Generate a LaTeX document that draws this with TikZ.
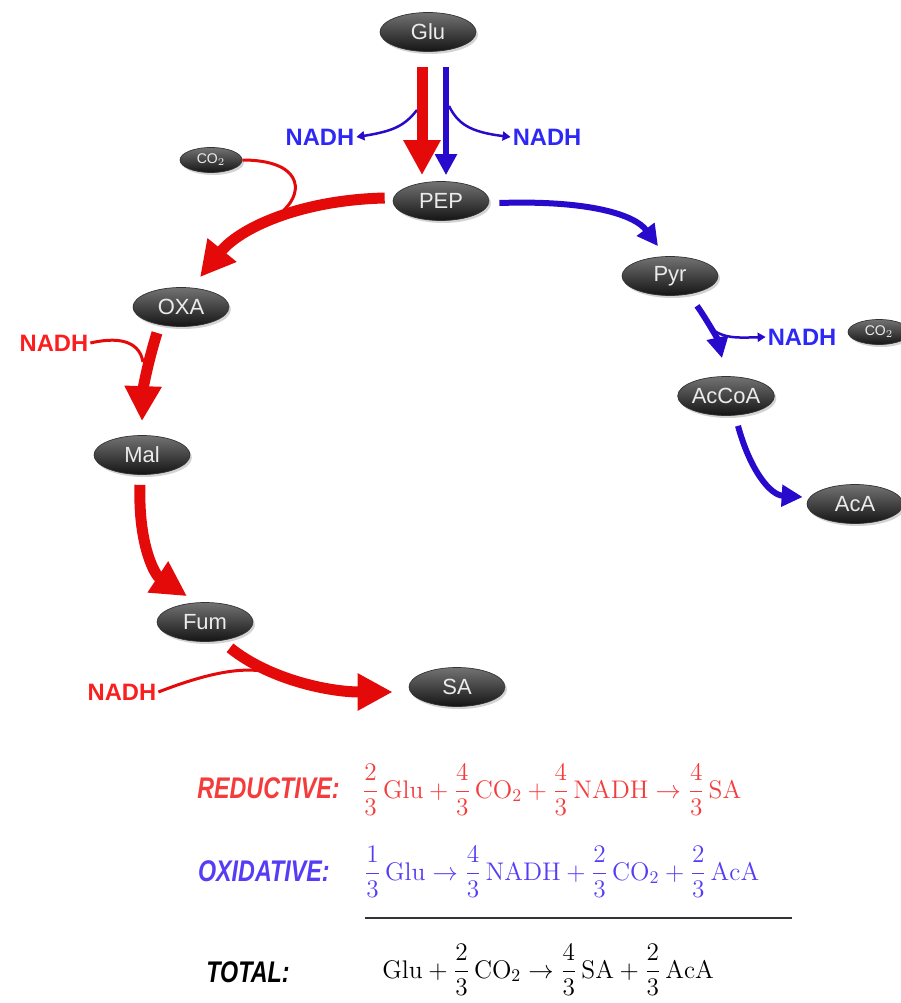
\documentclass[tikz,border=0pt]{standalone}
\usepackage{amsmath}
\usepackage{fontspec}
\usepackage{tikz}
\usetikzlibrary{arrows.meta,calc,shapes.geometric,shadows,positioning}
\newfontfamily\nodefont{Liberation Sans}
\newfontfamily\labfont[FakeStretch=0.78]{Liberation Sans}
\definecolor{pathred}{RGB}{228,10,10}
\definecolor{pathblue}{RGB}{40,10,205}
\definecolor{nadhred}{RGB}{250,30,30}
\definecolor{nadhblue}{RGB}{45,40,245}
\definecolor{eqred}{RGB}{245,60,60}
\definecolor{eqblue}{RGB}{85,60,245}
\tikzset{
  metab/.style={
    shape = ellipse,
    minimum width = 1.92cm,
    minimum height = 0.78cm,
    inner sep = 0pt,
    top color = black!55,
    bottom color = black!92,
    draw = black!80,
    drop shadow = {shadow xshift=0.04cm, shadow yshift=-0.05cm, opacity=0.35},
    text = black!8,
    font = \nodefont\fontsize{12.5}{14}\selectfont
  },
  gas/.style={
    metab,
    minimum width = 1.24cm,
    minimum height = 0.5cm,
    font = \nodefont\fontsize{8}{9}\selectfont
  },
}
\tikzset{
  nadh/.style={
    font = \nodefont\bfseries\fontsize{13.5}{15}\selectfont,
    inner sep = 1pt
  },
  redpath/.style={
    pathred,
    line width = 0.22cm,
    -{Triangle[width=0.7cm,length=0.7cm]}
  },
  bluepath/.style={
    pathblue,
    line width = 0.12cm,
    -{Triangle[width=0.42cm,length=0.42cm]}
  },
  redthin/.style={
    pathred,
    line width = 0.06cm
  },
  bluethin/.style={
    pathblue,
    line width = 0.05cm,
    -{Triangle[width=0.18cm,length=0.16cm]}
  },
  eqlab/.style={
    font = \labfont\bfseries\itshape\fontsize{17}{20}\selectfont,
    anchor = east,
    inner sep = 0pt
  },
  eqn/.style={
    font = \fontsize{14.5}{17}\selectfont,
    anchor = west,
    inner sep = 0pt
  }
}

\begin{document}
\begin{tikzpicture}[x=0.02cm,y=0.02cm]
        \useasboundingbox (0,0) rectangle (901,-1003);

        % metabolites
        \node[metab] (glu) at (428,-32) {Glu};
        \node[metab] (pep) at (441,-201) {PEP};
        \node[gas] (co2a) at (211,-160) {CO$_2$};
        \node[metab] (oxa) at (181,-307) {OXA};
        \node[metab] (mal) at (142,-455) {Mal};
        \node[metab] (fum) at (205,-622) {Fum};
        \node[metab] (sa) at (457,-687) {SA};
        \node[metab] (pyr) at (670,-276) {Pyr};
        \node[metab] (accoa) at (726,-396) {AcCoA};
        \node[metab] (aca) at (855,-504) {AcA};
        \node[gas] (co2b) at (879,-332) {CO$_2$};

        \node[nadh, text=nadhblue] (nadhl) at (320,-137) {NADH};
        \node[nadh, text=nadhblue] (nadhr) at (547,-137) {NADH};
        \node[nadh, text=nadhblue] (nadhox) at (802,-337) {NADH};
        \node[nadh, text=nadhred] (nadhm) at (54,-343) {NADH};
        \node[nadh, text=nadhred] (nadhs) at (122,-692) {NADH};

        % oxidative branch
        \coordinate (bl) at (417,-110);
        \coordinate (br) at (449,-106);
        \draw[bluethin] (bl) .. controls (405,-125) and (395,-131) .. (nadhl.east);
        \draw[bluethin] (br) .. controls (458,-124) and (470,-132) .. (nadhr.west);
        \draw[bluepath] ($(glu.south)+(18,-15)$) -- ($(pep.north)+(5,6)$);
        \draw[bluepath] ($(pep.east)+(10,-2)$) .. controls (590,-200) and (635,-215) .. ($(pyr.north)+(-12,10)$);
        \coordinate (bp) at (713,-330);
        \draw[bluethin] (bp) .. controls (725,-338) and (735,-338) .. (nadhox.west);
        \draw[bluepath] ($(pyr.south)+(27,-10)$) .. controls (707,-320) and (718,-340) .. ($(accoa.north)+(-4,18)$);
        \draw[bluepath] ($(accoa.south)+(12,-10)$) .. controls (750,-470) and (770,-495) .. ($(aca.west)+(-4,7)$);

        % reductive branch
        \draw[redpath] ($(glu.south)+(-6,-15)$) -- ($(pep.north)+(-19,6)$);
        \draw[redthin] (co2a.east) .. controls (300,-160) and (305,-190) .. (284,-210);
        \draw[redpath] ($(pep.west)+(-8,3)$) .. controls (300,-200) and (240,-228) .. ($(oxa.north)+(19,10)$);
        \draw[redthin] (nadhm.east) .. controls (125,-335) and (140,-345) .. (143,-362);
        \draw[redpath] ($(oxa.south)+(-24,-6)$) .. controls (147,-365) and (143,-390) .. ($(mal.north)+(0,14)$);
        \draw[redpath] ($(mal.south)+(-2,-10)$) .. controls (138,-545) and (155,-575) .. ($(fum.north)+(-18,6)$);
        \draw[redthin] (nadhs.east) .. controls (210,-672) and (240,-668) .. (262,-671);
        \draw[redpath] ($(fum.south)+(25,-6)$) .. controls (270,-680) and (330,-692) .. ($(sa.west)+(-16,-5)$);

        % equations
        \node[eqlab, text=eqred] (redlab) at (340,-788) {REDUCTIVE:};
        \node[eqn, text=eqred] (redeq) at (362,-790)
          {$\dfrac{2}{3}\,\mathrm{Glu}+\dfrac{4}{3}\,\mathrm{CO_2}+\dfrac{4}{3}\,\mathrm{NADH}\rightarrow\dfrac{4}{3}\,\mathrm{SA}$};
        \node[eqlab, text=eqblue] (oxlab) at (330,-871) {OXIDATIVE:};
        \node[eqn, text=eqblue] (oxeq) at (364,-872)
          {$\dfrac{1}{3}\,\mathrm{Glu}\rightarrow\dfrac{4}{3}\,\mathrm{NADH}+\dfrac{2}{3}\,\mathrm{CO_2}+\dfrac{2}{3}\,\mathrm{AcA}$};
        \draw[black!80, line width=0.035cm] (365,-918) -- (792,-918);
        \node[eqlab, text=black] (totlab) at (290,-972) {TOTAL:};
        \node[eqn, text=black] (toteq) at (382,-970)
          {$\mathrm{Glu}+\dfrac{2}{3}\,\mathrm{CO_2}\rightarrow\dfrac{4}{3}\,\mathrm{SA}+\dfrac{2}{3}\,\mathrm{AcA}$};
\end{tikzpicture}
\end{document}
